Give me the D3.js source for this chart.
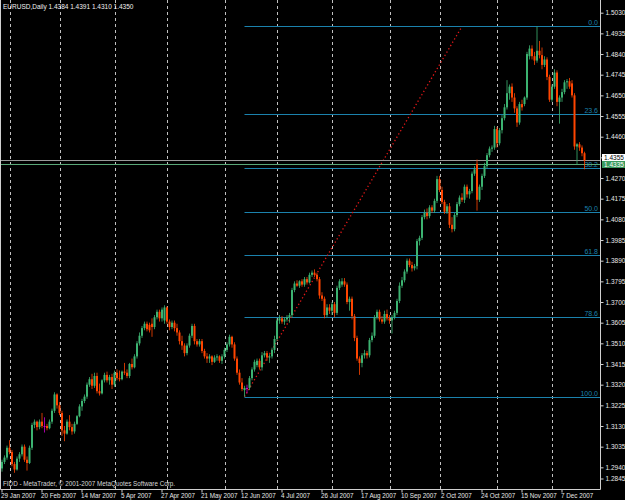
<!DOCTYPE html>
<html>
<head>
<meta charset="utf-8">
<script src="https://cdn.jsdelivr.net/npm/d3@7"></script>
<style>
  html, body { margin: 0; padding: 0; background: #000; }
  svg { display: block; }
  text { font-family: "Liberation Sans", Arial, sans-serif; }
</style>
</head>
<body>
<div id="chart"></div>
<script>
const symbolTitle = "EURUSD,Daily";
const firstDay = new Date(2007, 0, 29);
const endDay = new Date(2007, 11, 21);

// open, high, low, close (one per trading day from 29 Jan 2007)
const candles = [
  [1.2935,1.2975,1.2920,1.2965],[1.2965,1.2995,1.2955,1.2985],[1.2985,1.3040,1.2975,1.3030],
  [1.3030,1.3065,1.3000,1.3010],[1.3010,1.3020,1.2945,1.2955],[1.2955,1.2965,1.2915,1.2930],
  [1.2930,1.2990,1.2925,1.2980],[1.2980,1.3010,1.2965,1.3000],[1.3000,1.3045,1.2990,1.3035],
  [1.3035,1.3045,1.2965,1.2975],[1.2975,1.2990,1.2925,1.2960],[1.2960,1.3040,1.2955,1.3030],
  [1.3030,1.3145,1.3020,1.3135],[1.3135,1.3160,1.3120,1.3150],[1.3150,1.3155,1.3110,1.3125],
  [1.3125,1.3160,1.3115,1.3150],[1.3150,1.3190,1.3120,1.3130],[1.3130,1.3170,1.3100,1.3130],
  [1.3130,1.3140,1.3110,1.3120],[1.3120,1.3160,1.3115,1.3150],[1.3150,1.3210,1.3140,1.3200],
  [1.3200,1.3285,1.3190,1.3275],[1.3275,1.3280,1.3210,1.3225],
  // March
  [1.3225,1.3240,1.3180,1.3190],[1.3190,1.3200,1.3085,1.3110],[1.3110,1.3130,1.3060,1.3095],
  [1.3095,1.3160,1.3090,1.3150],[1.3150,1.3180,1.3110,1.3125],[1.3125,1.3140,1.3090,1.3105],
  [1.3105,1.3150,1.3095,1.3140],[1.3140,1.3180,1.3135,1.3175],[1.3175,1.3230,1.3170,1.3220],
  [1.3220,1.3255,1.3200,1.3245],[1.3245,1.3275,1.3235,1.3265],[1.3265,1.3330,1.3255,1.3320],
  [1.3320,1.3355,1.3310,1.3345],[1.3345,1.3370,1.3300,1.3315],[1.3315,1.3375,1.3305,1.3360],
  [1.3360,1.3375,1.3280,1.3290],[1.3290,1.3325,1.3270,1.3280],[1.3280,1.3345,1.3275,1.3340],
  [1.3340,1.3375,1.3330,1.3365],[1.3365,1.3380,1.3330,1.3340],[1.3340,1.3365,1.3320,1.3355],
  [1.3355,1.3370,1.3300,1.3320],
  // April
  [1.3320,1.3385,1.3310,1.3375],[1.3375,1.3390,1.3340,1.3350],[1.3350,1.3385,1.3335,1.3345],
  [1.3345,1.3385,1.3340,1.3380],[1.3380,1.3420,1.3365,1.3375],[1.3375,1.3390,1.3350,1.3360],
  [1.3360,1.3420,1.3350,1.3415],[1.3415,1.3440,1.3390,1.3400],[1.3400,1.3460,1.3395,1.3450],
  [1.3450,1.3520,1.3440,1.3510],[1.3510,1.3560,1.3500,1.3545],[1.3545,1.3590,1.3535,1.3580],
  [1.3580,1.3610,1.3570,1.3600],[1.3600,1.3610,1.3565,1.3575],[1.3595,1.3605,1.3560,1.3570],
  [1.3600,1.3625,1.3540,1.3585],[1.3585,1.3640,1.3575,1.3630],[1.3630,1.3665,1.3620,1.3655],
  [1.3655,1.3665,1.3610,1.3625],[1.3625,1.3675,1.3610,1.3665],[1.3615,1.3685,1.3600,1.3675],
  // May
  [1.3675,1.3680,1.3600,1.3610],[1.3610,1.3620,1.3570,1.3585],[1.3585,1.3615,1.3575,1.3605],
  [1.3605,1.3615,1.3565,1.3580],[1.3580,1.3600,1.3545,1.3560],[1.3560,1.3570,1.3505,1.3520],
  [1.3520,1.3545,1.3480,1.3500],[1.3500,1.3510,1.3450,1.3465],[1.3465,1.3510,1.3455,1.3500],
  [1.3500,1.3555,1.3490,1.3545],[1.3545,1.3600,1.3535,1.3590],[1.3590,1.3600,1.3505,1.3520],
  [1.3520,1.3530,1.3495,1.3505],[1.3505,1.3530,1.3495,1.3520],[1.3520,1.3530,1.3465,1.3475],
  [1.3475,1.3485,1.3440,1.3450],[1.3450,1.3465,1.3420,1.3440],[1.3440,1.3460,1.3420,1.3450],
  [1.3450,1.3455,1.3410,1.3425],[1.3425,1.3455,1.3420,1.3445],[1.3445,1.3460,1.3430,1.3450],
  [1.3450,1.3455,1.3420,1.3430],[1.3430,1.3460,1.3415,1.3450],
  // June
  [1.3450,1.3490,1.3440,1.3480],[1.3480,1.3515,1.3470,1.3505],[1.3505,1.3550,1.3495,1.3540],
  [1.3540,1.3545,1.3490,1.3505],[1.3505,1.3515,1.3430,1.3440],[1.3440,1.3450,1.3365,1.3375],
  [1.3375,1.3390,1.3320,1.3330],[1.3330,1.3350,1.3290,1.3300],[1.3295,1.3315,1.3265,1.3305],
  [1.3305,1.3320,1.3280,1.3305],[1.3305,1.3360,1.3295,1.3350],[1.3350,1.3400,1.3340,1.3390],
  [1.3390,1.3435,1.3380,1.3425],[1.3410,1.3440,1.3400,1.3430],[1.3430,1.3440,1.3390,1.3400],
  [1.3400,1.3470,1.3385,1.3455],[1.3455,1.3475,1.3445,1.3465],[1.3465,1.3475,1.3430,1.3445],
  [1.3445,1.3460,1.3420,1.3450],[1.3450,1.3490,1.3440,1.3480],[1.3480,1.3545,1.3465,1.3530],
  // July
  [1.3530,1.3625,1.3520,1.3615],[1.3615,1.3640,1.3600,1.3625],[1.3625,1.3635,1.3600,1.3610],
  [1.3610,1.3630,1.3595,1.3620],[1.3620,1.3640,1.3610,1.3630],[1.3630,1.3650,1.3605,1.3640],
  [1.3640,1.3765,1.3630,1.3755],[1.3755,1.3795,1.3745,1.3785],[1.3785,1.3800,1.3770,1.3775],
  [1.3775,1.3800,1.3765,1.3795],[1.3795,1.3805,1.3770,1.3780],[1.3780,1.3815,1.3770,1.3805],
  [1.3805,1.3815,1.3780,1.3790],[1.3790,1.3835,1.3785,1.3825],[1.3825,1.3845,1.3815,1.3835],
  [1.3835,1.3850,1.3815,1.3825],[1.3825,1.3835,1.3795,1.3805],[1.3805,1.3815,1.3715,1.3730],
  [1.3730,1.3745,1.3705,1.3715],[1.3715,1.3725,1.3625,1.3640],[1.3640,1.3690,1.3630,1.3675],
  [1.3675,1.3690,1.3645,1.3660],
  // August
  [1.3660,1.3700,1.3640,1.3690],[1.3690,1.3700,1.3630,1.3650],[1.3650,1.3775,1.3640,1.3765],
  [1.3765,1.3805,1.3755,1.3795],[1.3780,1.3810,1.3770,1.3795],[1.3795,1.3810,1.3770,1.3780],
  [1.3780,1.3790,1.3690,1.3700],[1.3700,1.3725,1.3660,1.3715],[1.3715,1.3725,1.3620,1.3635],
  [1.3635,1.3645,1.3520,1.3535],[1.3535,1.3545,1.3430,1.3440],[1.3440,1.3450,1.3365,1.3420],
  [1.3420,1.3465,1.3400,1.3455],[1.3455,1.3480,1.3440,1.3465],[1.3465,1.3475,1.3440,1.3455],
  [1.3455,1.3535,1.3445,1.3525],[1.3525,1.3560,1.3515,1.3545],[1.3545,1.3640,1.3535,1.3630],
  [1.3630,1.3665,1.3620,1.3655],[1.3655,1.3665,1.3610,1.3620],[1.3620,1.3635,1.3600,1.3610],
  [1.3610,1.3660,1.3600,1.3645],[1.3645,1.3665,1.3615,1.3625],
  // September
  [1.3625,1.3640,1.3600,1.3615],[1.3615,1.3640,1.3555,1.3630],[1.3630,1.3660,1.3620,1.3650],
  [1.3650,1.3715,1.3640,1.3705],[1.3705,1.3790,1.3695,1.3775],[1.3775,1.3815,1.3765,1.3800],
  [1.3800,1.3850,1.3790,1.3840],[1.3840,1.3900,1.3830,1.3890],[1.3890,1.3900,1.3860,1.3870],
  [1.3870,1.3885,1.3840,1.3855],[1.3855,1.3875,1.3845,1.3865],[1.3865,1.3990,1.3850,1.3980],
  [1.3980,1.4005,1.3960,1.3995],[1.3995,1.4100,1.3985,1.4090],[1.4090,1.4125,1.4080,1.4110],
  [1.4110,1.4130,1.4080,1.4095],[1.4095,1.4145,1.4085,1.4135],[1.4135,1.4145,1.4110,1.4120],
  [1.4120,1.4175,1.4110,1.4165],[1.4165,1.4280,1.4155,1.4265],
  // October
  [1.4265,1.4280,1.4205,1.4215],[1.4215,1.4230,1.4150,1.4160],[1.4160,1.4170,1.4105,1.4115],
  [1.4115,1.4150,1.4105,1.4140],[1.4140,1.4155,1.4040,1.4055],[1.4055,1.4090,1.4020,1.4035],
  [1.4035,1.4110,1.4025,1.4100],[1.4100,1.4160,1.4090,1.4150],[1.4150,1.4190,1.4140,1.4180],
  [1.4180,1.4200,1.4160,1.4170],[1.4170,1.4240,1.4155,1.4230],[1.4230,1.4240,1.4180,1.4195],
  [1.4195,1.4220,1.4175,1.4210],[1.4210,1.4300,1.4200,1.4290],[1.4290,1.4325,1.4280,1.4310],
  [1.4335,1.4355,1.4120,1.4170],[1.4170,1.4240,1.4160,1.4230],[1.4230,1.4290,1.4215,1.4280],
  [1.4280,1.4340,1.4270,1.4325],[1.4325,1.4385,1.4315,1.4375],[1.4375,1.4415,1.4365,1.4405],
  [1.4405,1.4420,1.4390,1.4410],[1.4410,1.4510,1.4400,1.4495],
  // November
  [1.4495,1.4505,1.4410,1.4430],[1.4430,1.4500,1.4420,1.4490],[1.4490,1.4560,1.4475,1.4545],
  [1.4545,1.4610,1.4535,1.4595],[1.4595,1.4720,1.4585,1.4660],[1.4660,1.4700,1.4630,1.4690],
  [1.4690,1.4705,1.4620,1.4640],[1.4640,1.4660,1.4570,1.4590],[1.4590,1.4600,1.4505,1.4525],
  [1.4525,1.4620,1.4515,1.4610],[1.4610,1.4630,1.4580,1.4595],[1.4610,1.4645,1.4600,1.4640],
  [1.4640,1.4850,1.4630,1.4840],[1.4830,1.4880,1.4815,1.4865],[1.4865,1.4880,1.4815,1.4830],
  [1.4830,1.4850,1.4790,1.4810],[1.4810,1.4967,1.4800,1.4855],[1.4855,1.4900,1.4820,1.4835],
  [1.4835,1.4870,1.4770,1.4790],[1.4790,1.4830,1.4780,1.4815],[1.4815,1.4825,1.4720,1.4735],
  [1.4735,1.4745,1.4620,1.4630],
  // December
  [1.4630,1.4700,1.4620,1.4690],[1.4690,1.4770,1.4680,1.4755],[1.4755,1.4765,1.4600,1.4620],
  [1.4620,1.4650,1.4520,1.4640],[1.4640,1.4680,1.4620,1.4665],[1.4665,1.4720,1.4655,1.4710],
  [1.4710,1.4725,1.4680,1.4715],[1.4715,1.4730,1.4680,1.4690],[1.4705,1.4720,1.4640,1.4650],
  [1.4650,1.4660,1.4400,1.4415],[1.4415,1.4430,1.4330,1.4425],[1.4425,1.4435,1.4395,1.4410],
  [1.4410,1.4420,1.4370,1.4384],[1.4384,1.4391,1.4310,1.4350]
];

const priceTicks = ["1.5030","1.4935","1.4840","1.4745","1.4650","1.4555","1.4460","1.4365",
  "1.4270","1.4175","1.4080","1.3985","1.3890","1.3795","1.3700","1.3605","1.3510","1.3415",
  "1.3320","1.3225","1.3130","1.3035","1.2940","1.2845"];
const dateTicks = ["29 Jan 2007","20 Feb 2007","14 Mar 2007","5 Apr 2007","27 Apr 2007",
  "21 May 2007","12 Jun 2007","4 Jul 2007","26 Jul 2007","17 Aug 2007","10 Sep 2007",
  "2 Oct 2007","24 Oct 2007","15 Nov 2007","7 Dec 2007"];

// fibonacci retracement drawn on the chart
const fibLevels = [0, 23.6, 38.2, 50, 61.8, 78.6, 100];
const fibLowPrice = 1.3265, fibHighPrice = 1.4967;
const fibLowDay = "13 Jun 2007", fibHighDay = "12 Oct 2007";

// horizontal price lines with their labels at the right
const linePrice = 1.4355, bidPrice = 1.4335;

const W = 625, H = 500;
const plotRight = 600, plotBottom = 489;
const bull = "#3cb371", bear = "#ff4500", doji = "#d000d0";
const fibColor = "#1b82ad", gridColor = "#c0c0c0";

const parseDay = d3.timeParse("%d %b %Y");
const days = d3.timeDay.range(firstDay, endDay)
  .filter(d => d.getDay() !== 0 && d.getDay() !== 6)
  .slice(0, candles.length);
const dayIndex = s => days.findIndex(d => +d === +parseDay(s));

const x = d3.scaleBand()
  .domain(d3.range(candles.length))
  .range([0.75, 0.75 + 2.5 * candles.length])
  .paddingInner(0.2).paddingOuter(0.1);
const cx = i => x(i) + x.bandwidth() / 2;

const y = d3.scaleLinear()
  .domain([1.2845, 1.5030])
  .range([488, 12.7]);

const svg = d3.select("#chart").append("svg")
  .attr("width", W).attr("height", H)
  .style("background", "#000");

// month grid
const monthStarts = days.map((d, i) => i).filter(i => i > 0 && days[i].getMonth() !== days[i - 1].getMonth());
svg.append("g").selectAll("line")
  .data(monthStarts).enter().append("line")
  .attr("x1", i => Math.round(cx(i)) + 0.5).attr("x2", i => Math.round(cx(i)) + 0.5)
  .attr("y1", 0).attr("y2", plotBottom)
  .attr("stroke", gridColor).attr("stroke-width", 1)
  .attr("stroke-dasharray", "3,3");

// fibonacci levels
const fibPrice = lvl => fibHighPrice - (fibHighPrice - fibLowPrice) * lvl / 100;
const fx0 = cx(dayIndex(fibLowDay)), fx1 = cx(dayIndex(fibHighDay));
const fib = svg.append("g");
fib.selectAll("line")
  .data(fibLevels).enter().append("line")
  .attr("x1", fx0).attr("x2", plotRight)
  .attr("y1", d => Math.round(y(fibPrice(d))) + 0.5)
  .attr("y2", d => Math.round(y(fibPrice(d))) + 0.5)
  .attr("stroke", fibColor).attr("stroke-width", 1);
fib.selectAll("text")
  .data(fibLevels).enter().append("text")
  .attr("x", 598)
  .attr("y", d => Math.round(y(fibPrice(d))) - 1.5)
  .attr("text-anchor", "end")
  .attr("fill", fibColor).attr("font-size", 7)
  .text(d => d.toFixed(1));
fib.append("line")
  .attr("x1", fx0).attr("y1", y(fibLowPrice))
  .attr("x2", fx1).attr("y2", y(fibHighPrice))
  .attr("stroke", "#e01818").attr("stroke-width", 1.3)
  .attr("stroke-dasharray", "1.3,2.5");

// price lines
svg.append("line")
  .attr("x1", 0).attr("x2", plotRight)
  .attr("y1", Math.round(y(linePrice)) + 0.5).attr("y2", Math.round(y(linePrice)) + 0.5)
  .attr("stroke", "#9a9a9a");
svg.append("line")
  .attr("x1", 0).attr("x2", plotRight)
  .attr("y1", Math.round(y(bidPrice)) + 0.5).attr("y2", Math.round(y(bidPrice)) + 0.5)
  .attr("stroke", "#5aa878");

// candles
const colorOf = d => d[3] > d[0] ? bull : d[3] < d[0] ? bear : doji;
const c = svg.append("g").selectAll("g")
  .data(candles).enter().append("g");
c.append("line")
  .attr("x1", (d, i) => cx(i)).attr("x2", (d, i) => cx(i))
  .attr("y1", d => y(d[1])).attr("y2", d => y(d[2]))
  .attr("stroke", colorOf).attr("stroke-width", 0.8);
c.append("rect")
  .attr("x", (d, i) => x(i))
  .attr("width", x.bandwidth())
  .attr("y", d => y(Math.max(d[0], d[3])))
  .attr("height", d => Math.max(1, Math.abs(y(d[0]) - y(d[3]))))
  .attr("fill", colorOf);

// frame
svg.append("path")
  .attr("d", `M0.5,0 V${plotBottom + 0.5} H${plotRight + 0.5} V0`)
  .attr("fill", "none").attr("stroke", "#d0d0d0");

// price axis (the 1.4365 label sits under the line labels, as in the terminal)
const yAxis = svg.append("g")
  .attr("transform", `translate(${plotRight + 0.5},0)`)
  .call(d3.axisRight(y).tickValues(priceTicks.map(Number)).tickFormat((d, i) => priceTicks[i]).tickSize(3).tickPadding(2));
yAxis.select(".domain").remove();
yAxis.selectAll("line").attr("stroke", "#d0d0d0");
yAxis.selectAll("text").attr("fill", "#e8e8e8").attr("font-size", 6.5);
yAxis.selectAll(".tick").filter((d, i) => i === priceTicks.length - 1)
  .attr("transform", "translate(0,479)");

// line labels
const yl = Math.round(y(linePrice));
const lbl = svg.append("g");
lbl.append("rect").attr("x", 602).attr("y", yl - 6).attr("width", 23).attr("height", 7).attr("fill", "#ffffff");
lbl.append("text").attr("x", 604).attr("y", yl - 0.5).attr("font-size", 6.5).attr("fill", "#000").text(linePrice.toFixed(4));
lbl.append("rect").attr("x", 602).attr("y", yl + 1).attr("width", 23).attr("height", 7).attr("fill", "#3a9a5e");
lbl.append("text").attr("x", 604).attr("y", yl + 6.5).attr("font-size", 6.5).attr("fill", "#fff").text(bidPrice.toFixed(4));

// time axis
const xAxis = svg.append("g")
  .attr("transform", `translate(0,${plotBottom + 0.5})`)
  .call(d3.axisBottom(x).tickValues(dateTicks.map(dayIndex)).tickFormat((d, i) => dateTicks[i]).tickSize(3).tickPadding(1));
xAxis.select(".domain").remove();
xAxis.selectAll("line").attr("stroke", "#d0d0d0");
xAxis.selectAll("text").attr("fill", "#e8e8e8").attr("font-size", 6.3)
  .attr("text-anchor", "start").attr("dx", -1);

// captions
const last = candles[candles.length - 1];
svg.append("text").attr("x", 3).attr("y", 9).attr("fill", "#f0f0f0").attr("font-size", 6.5)
  .text(symbolTitle + "  " + last.map(v => v.toFixed(4)).join(" "));
svg.append("text").attr("x", 3).attr("y", 486).attr("fill", "#d8d8d8").attr("font-size", 6.3)
  .text("FIDD - MetaTrader, \u00a9 2001-2007 MetaQuotes Software Corp.");
</script>
</body>
</html>
